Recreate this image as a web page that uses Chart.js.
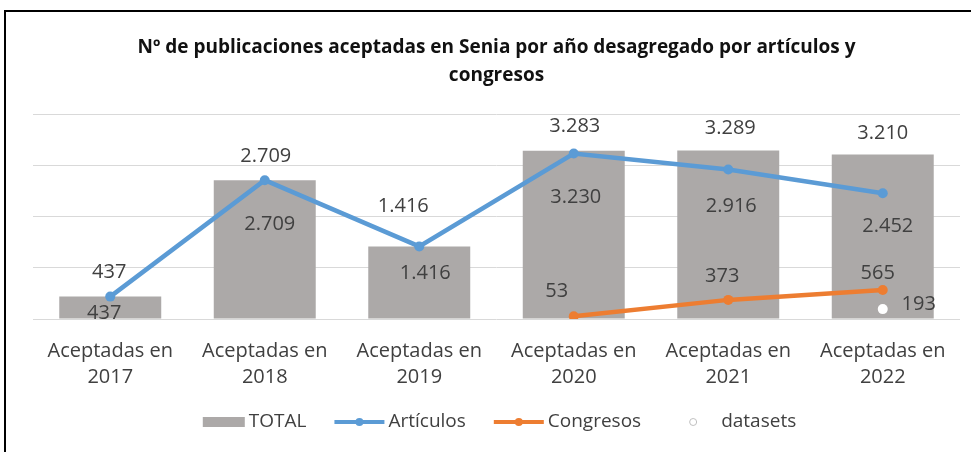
<!DOCTYPE html>
<html lang="es">
<head>
<meta charset="utf-8">
<title>Publicaciones aceptadas en Senia</title>
<script src="https://cdn.jsdelivr.net/npm/chart.js@4.4.1/dist/chart.umd.min.js"></script>
<style>
  html, body { margin: 0; padding: 0; background: #fff; }
  #frame {
    position: absolute; left: 4px; top: 10px; right: 0; bottom: 0;
    border-left: 2px solid #000; border-top: 2px solid #000;
  }
  #chart { position: absolute; left: 0; top: 0; }
</style>
</head>
<body>
<div id="frame"></div>
<canvas id="chart" width="971" height="452"></canvas>
<script>
// --- datos ---
const years = ['2017', '2018', '2019', '2020', '2021', '2022'];
const totalValues = [437, 2709, 1416, 3283, 3289, 3210];
const articulosValues = [437, 2709, 1416, 3230, 2916, 2452];
const congresosValues = [null, null, null, 53, 373, 565];
const datasetsValues = [null, null, null, null, null, 193];
const yMax = 4000;
const yStep = 1000;

const FONT = '"Open Sans", "Liberation Sans", sans-serif';
const TEXT_COLOR = '#404040';

// desplazamiento de cada etiqueta de datos respecto a su punto (como en el original)
const labelOffsets = [
  [[-1, -24], [1, -24], [-16, -40], [1, -24], [2, -22], [0, -21]],
  [[-6, 17], [5, 44], [6, 27], [2, 44], [3, 37], [5, 33]],
  [null, null, null, [-17, -25], [-6, -24], [-5, -17]],
  [null, null, null, null, null, [36, -5]],
];

const fmt = (n) => String(n).replace(/\B(?=(\d{3})+(?!\d))/g, '.');

// etiquetas de datos dibujadas encima de barras y puntos
const dataLabels = {
  id: 'dataLabels',
  afterDatasetsDraw(chart) {
    const ctx = chart.ctx;
    ctx.save();
    ctx.font = '20px ' + FONT;
    ctx.fillStyle = TEXT_COLOR;
    ctx.textAlign = 'center';
    ctx.textBaseline = 'middle';
    chart.data.datasets.forEach((ds, di) => {
      const meta = chart.getDatasetMeta(di);
      meta.data.forEach((el, i) => {
        const v = ds.data[i];
        if (v === null || v === undefined) return;
        const off = labelOffsets[di][i] || [0, 0];
        ctx.fillText(fmt(v), el.x + off[0], el.y + off[1]);
      });
    });
    ctx.restore();
  },
};

// leyenda al estilo de Excel (icono de barra, línea con marcador, punto)
const excelLegend = {
  id: 'excelLegend',
  afterDraw(chart) {
    const ctx = chart.ctx;
    const iconW = { bar: 42, line: 50, dot: 48 };
    const y = 422;
    ctx.save();
    ctx.font = '19px ' + FONT;
    ctx.textBaseline = 'middle';
    const items = chart.data.datasets.map((ds) => ({
      ds,
      w: iconW[ds.legendKind] + 4 + ctx.measureText(ds.label).width,
    }));
    const spacing = 28;
    const total = items.reduce((a, it) => a + it.w, 0) + spacing * (items.length - 1);
    let x = (chart.chartArea.left + chart.chartArea.right) / 2 + 3 - total / 2;
    items.forEach(({ ds, w }) => {
      const iw = iconW[ds.legendKind];
      if (ds.legendKind === 'bar') {
        ctx.fillStyle = ds.backgroundColor;
        ctx.fillRect(x, y - 5, iw, 10);
      } else if (ds.legendKind === 'line') {
        ctx.strokeStyle = ds.borderColor;
        ctx.lineWidth = 4;
        ctx.beginPath();
        ctx.moveTo(x, y);
        ctx.lineTo(x + iw, y);
        ctx.stroke();
        ctx.fillStyle = ds.borderColor;
        ctx.beginPath();
        ctx.arc(x + iw / 2, y, 4, 0, Math.PI * 2);
        ctx.fill();
      } else {
        ctx.strokeStyle = '#BFBFBF';
        ctx.lineWidth = 1;
        ctx.beginPath();
        ctx.arc(x + iw / 2, y, 3.5, 0, Math.PI * 2);
        ctx.stroke();
      }
      ctx.fillStyle = TEXT_COLOR;
      ctx.textAlign = 'left';
      ctx.fillText(ds.label, x + iw + 4, y);
      x += w + spacing;
    });
    ctx.restore();
  },
};

const ctx = document.getElementById('chart').getContext('2d');
new Chart(ctx, {
  type: 'bar',
  data: {
    labels: years.map((y) => ['Aceptadas en', y]),
    datasets: [
      {
        label: 'TOTAL',
        legendKind: 'bar',
        data: totalValues,
        backgroundColor: '#ACA9A8',
        categoryPercentage: 1,
        barPercentage: 0.66,
        order: 4,
      },
      {
        label: 'Artículos',
        legendKind: 'line',
        type: 'line',
        data: articulosValues,
        borderColor: '#5B9BD5',
        backgroundColor: '#5B9BD5',
        borderWidth: 4.5,
        pointRadius: 5,
        pointBorderWidth: 0,
        tension: 0,
        order: 2,
      },
      {
        label: 'Congresos',
        legendKind: 'line',
        type: 'line',
        data: congresosValues,
        borderColor: '#ED7D31',
        backgroundColor: '#ED7D31',
        borderWidth: 4.5,
        pointRadius: 5,
        pointBorderWidth: 0,
        tension: 0,
        order: 1,
      },
      {
        label: 'datasets',
        legendKind: 'dot',
        type: 'line',
        data: datasetsValues,
        showLine: false,
        borderColor: '#FFFFFF',
        backgroundColor: '#FFFFFF',
        pointRadius: 5,
        pointBorderWidth: 0,
        order: 0,
      },
    ],
  },
  options: {
    responsive: false,
    animation: false,
    layout: { padding: { left: 33, right: 11, top: 0, bottom: 43 } },
    plugins: {
      legend: { display: false },
      tooltip: { enabled: false },
      title: {
        display: true,
        text: [
          'Nº de publicaciones aceptadas en Senia por año desagregado por artículos y',
          'congresos',
        ],
        color: '#111',
        font: { family: FONT, size: 19, weight: 'bold', lineHeight: 28 / 19 },
        padding: { top: 34, bottom: 24 },
      },
    },
    scales: {
      x: {
        grid: { display: false, drawTicks: false },
        border: { display: false },
        ticks: {
          color: TEXT_COLOR,
          font: { family: FONT, size: 20, lineHeight: 26 / 20 },
          padding: 19,
          maxRotation: 0,
          autoSkip: false,
        },
      },
      y: {
        min: 0,
        max: yMax,
        ticks: { display: false, stepSize: yStep },
        grid: { color: '#D9D9D9', lineWidth: 1, drawTicks: false },
        border: { display: false },
      },
    },
  },
  plugins: [dataLabels, excelLegend],
});
</script>
</body>
</html>
